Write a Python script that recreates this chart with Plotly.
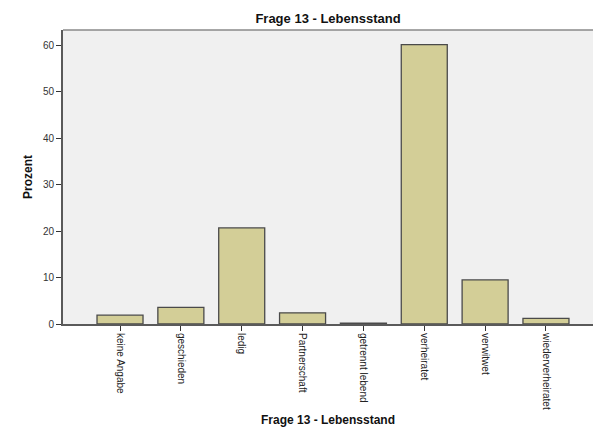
import plotly.graph_objects as go

# Marital status distribution (percent)
categories = ["keine Angabe", "geschieden", "ledig", "Partnerschaft",
              "getrennt lebend", "verheiratet", "verwitwet", "wiederverheiratet"]
percent = [1.9, 3.6, 20.7, 2.4, 0.2, 60.2, 9.5, 1.2]
y_ticks = [0, 10, 20, 30, 40, 50, 60]

FONT = "Liberation Sans, Arial, sans-serif"

fig = go.Figure(
    go.Bar(
        x=list(range(len(categories))),
        y=percent,
        width=0.756,
        marker=dict(color="#D3CE97", line=dict(color="#4A4A4A", width=1.3)),
        hoverinfo="y",
    )
)

fig.update_layout(
    width=593,
    height=428,
    margin=dict(l=63, r=0, t=30, b=104),
    paper_bgcolor="white",
    plot_bgcolor="#F0F0F0",
    showlegend=False,
    title=dict(
        text="<b>Frage 13 - Lebensstand</b>",
        font=dict(family=FONT, size=13, color="#111"),
        x=(63 + 593) / 2 / 593,
        xanchor="center",
        y=1 - 18 / 428,
        yanchor="middle",
    ),
    xaxis=dict(
        range=[-0.937, 7.773],
        tickmode="array",
        tickvals=list(range(len(categories))),
        ticktext=categories,
        tickangle=90,
        ticks="outside",
        ticklen=5,
        tickwidth=1,
        tickcolor="#333",
        tickfont=dict(family=FONT, size=10, color="#222"),
        showline=True,
        linecolor="#5A5A5A",
        linewidth=2,
        showgrid=False,
        zeroline=False,
        title=dict(
            text="<b>Frage 13 - Lebensstand</b>",
            font=dict(family=FONT, size=12, color="#111"),
            standoff=7,
        ),
    ),
    yaxis=dict(
        range=[0, 63.33],
        tickmode="array",
        tickvals=y_ticks,
        ticks="outside",
        ticklen=5,
        tickwidth=1,
        tickcolor="#333",
        tickfont=dict(family=FONT, size=10, color="#333"),
        showline=True,
        linecolor="#5A5A5A",
        linewidth=2,
        showgrid=False,
        zeroline=False,
        title=dict(
            text="<b>Prozent</b>",
            font=dict(family=FONT, size=12, color="#111"),
            standoff=8,
        ),
    ),
    shapes=[
        dict(type="line", xref="paper", yref="paper", x0=0, x1=1, y0=1, y1=1,
             line=dict(color="#8A8A8A", width=1.5)),
    ],
)

fig.write_html("out.html")
